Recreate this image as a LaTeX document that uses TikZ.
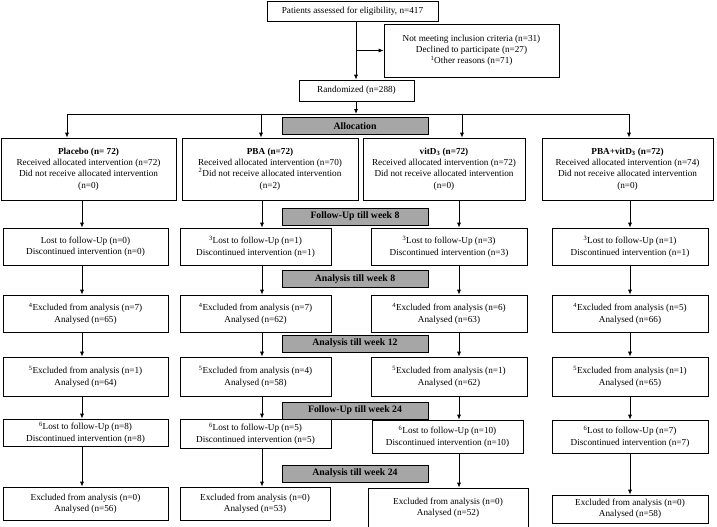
\documentclass[tikz,border=0pt]{standalone}
\usepackage{fontspec}
\setmainfont{Liberation Serif}
\usetikzlibrary{arrows.meta}

\tikzset{
  box/.style={draw, fill=white, align=center, inner sep=1pt, line width=0.6pt,
    font=\fontsize{9.2}{11.2}\selectfont},
  bar/.style={draw, fill=gray!70, minimum width=146pt, minimum height=17pt, inner sep=0pt,
    line width=0.6pt, font=\fontsize{9.8}{10}\selectfont\bfseries},
  arr/.style={-{Latex[length=5pt,width=4pt]}, line width=0.8pt},
}

\begin{document}
\begin{tikzpicture}[x=1pt, y=-1pt]
  \useasboundingbox (0,0) rectangle (717,527);

  % Enrolment
  \node[box, minimum width=171pt, minimum height=20pt] (elig) at (352.5,11) {Patients assessed for eligibility, n=417};
  \node[box, minimum width=175pt, minimum height=53pt] (excl) at (471.5,50.5)
    {Not meeting inclusion criteria (n=31)\\Declined to participate (n=27)\\\textsuperscript{1}Other reasons (n=71)};
  \node[box, minimum width=115pt, minimum height=21pt] (rand) at (356.5,90.5) {Randomized (n=288)};

  % Gray stage bars
  \node[bar] (alloc) at (355,126)   {Allocation};
  \node[bar] (fu8)   at (355,216.5) {Follow-Up till week 8};
  \node[bar] (an8)   at (355,279)   {Analysis till week 8};
  \node[bar] (an12)  at (355,343.5) {Analysis till week 12};
  \node[bar] (fu24)  at (355,410.5) {Follow-Up till week 24};
  \node[bar] (an24)  at (355,473.5) {Analysis till week 24};

  % Row 1: allocated groups
  \node[box, minimum width=175pt, minimum height=62pt] (p1) at (88.5,169)
    {\textbf{Placebo (n= 72)}\\Received allocated intervention (n=72)\\Did not receive allocated intervention\\(n=0)};
  \node[box, minimum width=176pt, minimum height=62pt] (b1) at (270,169)
    {\textbf{PBA (n=72)}\\Received allocated intervention (n=70)\\\textsuperscript{2}Did not receive allocated intervention\\(n=2)};
  \node[box, minimum width=162pt, minimum height=62pt] (v1) at (444,169)
    {\textbf{vitD\textsubscript{3} (n=72)}\\Received allocated intervention (n=72)\\Did not receive allocated intervention\\(n=0)};
  \node[box, minimum width=171pt, minimum height=62pt] (c1) at (627.5,169)
    {\textbf{PBA+vitD\textsubscript{3} (n=72)}\\Received allocated intervention (n=74)\\Did not receive allocated intervention\\(n=0)};

  % Row 2: follow-up till week 8
  \node[box, minimum width=165pt, minimum height=37pt] (p2) at (85.5,246.5) {Lost to follow-Up (n=0)\\Discontinued intervention (n=0)};
  \node[box, minimum width=151pt, minimum height=37pt] (b2) at (255.5,246.5) {\textsuperscript{3}Lost to follow-Up (n=1)\\Discontinued intervention (n=1)};
  \node[box, minimum width=156pt, minimum height=37pt] (v2) at (449,246.5) {\textsuperscript{3}Lost to follow-Up (n=3)\\Discontinued intervention (n=3)};
  \node[box, minimum width=156pt, minimum height=37pt] (c2) at (630,246.5) {\textsuperscript{3}Lost to follow-Up (n=1)\\Discontinued intervention (n=1)};

  % Row 3: analysis till week 8
  \node[box, minimum width=165pt, minimum height=37pt] (p3) at (85.5,313.5) {\textsuperscript{4}Excluded from analysis (n=7)\\Analysed (n=65)};
  \node[box, minimum width=151pt, minimum height=37pt] (b3) at (255.5,313.5) {\textsuperscript{4}Excluded from analysis (n=7)\\Analysed (n=62)};
  \node[box, minimum width=156pt, minimum height=37pt] (v3) at (449,313.5) {\textsuperscript{4}Excluded from analysis (n=6)\\Analysed (n=63)};
  \node[box, minimum width=156pt, minimum height=37pt] (c3) at (630,313.5) {\textsuperscript{4}Excluded from analysis (n=5)\\Analysed (n=66)};

  % Row 4: analysis till week 12
  \node[box, minimum width=165pt, minimum height=39pt] (p4) at (85.5,376.5) {\textsuperscript{5}Excluded from analysis (n=1)\\Analysed (n=64)};
  \node[box, minimum width=151pt, minimum height=39pt] (b4) at (255.5,376.5) {\textsuperscript{5}Excluded from analysis (n=4)\\Analysed (n=58)};
  \node[box, minimum width=156pt, minimum height=39pt] (v4) at (449,376.5) {\textsuperscript{5}Excluded from analysis (n=1)\\Analysed (n=62)};
  \node[box, minimum width=156pt, minimum height=39pt] (c4) at (630,376.5) {\textsuperscript{5}Excluded from analysis (n=1)\\Analysed (n=65)};

  % Row 5: follow-up till week 24
  \node[box, minimum width=165pt, minimum height=27pt] (p5) at (85.5,432.5) {\textsuperscript{6}Lost to follow-Up (n=8)\\Discontinued intervention (n=8)};
  \node[box, minimum width=151pt, minimum height=29pt] (b5) at (255.5,433.5) {\textsuperscript{6}Lost to follow-Up (n=5)\\Discontinued intervention (n=5)};
  \node[box, minimum width=151pt, minimum height=33pt] (v5) at (447.5,436.5) {\textsuperscript{6}Lost to follow-Up (n=10)\\Discontinued intervention (n=10)};
  \node[box, minimum width=156pt, minimum height=33pt] (c5) at (630,436.5) {\textsuperscript{6}Lost to follow-Up (n=7)\\Discontinued intervention (n=7)};

  % Row 6: analysis till week 24
  \node[box, minimum width=165pt, minimum height=33pt] (p6) at (85.5,503.5) {Excluded from analysis (n=0)\\Analysed (n=56)};
  \node[box, minimum width=150pt, minimum height=33pt] (b6) at (255,503.5) {Excluded from analysis (n=0)\\Analysed (n=53)};
  \node[box, minimum width=160pt, minimum height=39pt] (v6) at (448,507.5) {Excluded from analysis (n=0)\\Analysed (n=52)};
  \node[box, minimum width=156pt, minimum height=28pt] (c6) at (630,509) {Excluded from analysis (n=0)\\Analysed (n=58)};

  % Connectors at the top
  \coordinate (trunk) at (356,0);
  \draw[arr] (elig.south -| trunk) -- (rand.north -| trunk);
  \draw[arr] (excl.west -| trunk) -- (excl.west);
  \coordinate (split) at (356,114);
  \draw[arr] (rand.south -| split) -- (split);
  \foreach \g/\x in {p/67, b/261, v/462, c/629}
    \coordinate (top\g) at (\x,114);
  \draw[line width=0.7pt] (topp) -- (topc);
  \foreach \g in {p, b, v, c}
    \draw[arr] (top\g) -- (\g1.north -| top\g);

  % Column arrows between rows
  \foreach \g/\x in {p/82, b/262, v/459, c/630} {
    \coordinate (col\g) at (\x,0);
    \foreach \a/\b in {1/2, 2/3, 3/4, 4/5, 5/6}
      \draw[arr] (\g\a.south -| col\g) -- (\g\b.north -| col\g);
  }
\end{tikzpicture}
\end{document}
